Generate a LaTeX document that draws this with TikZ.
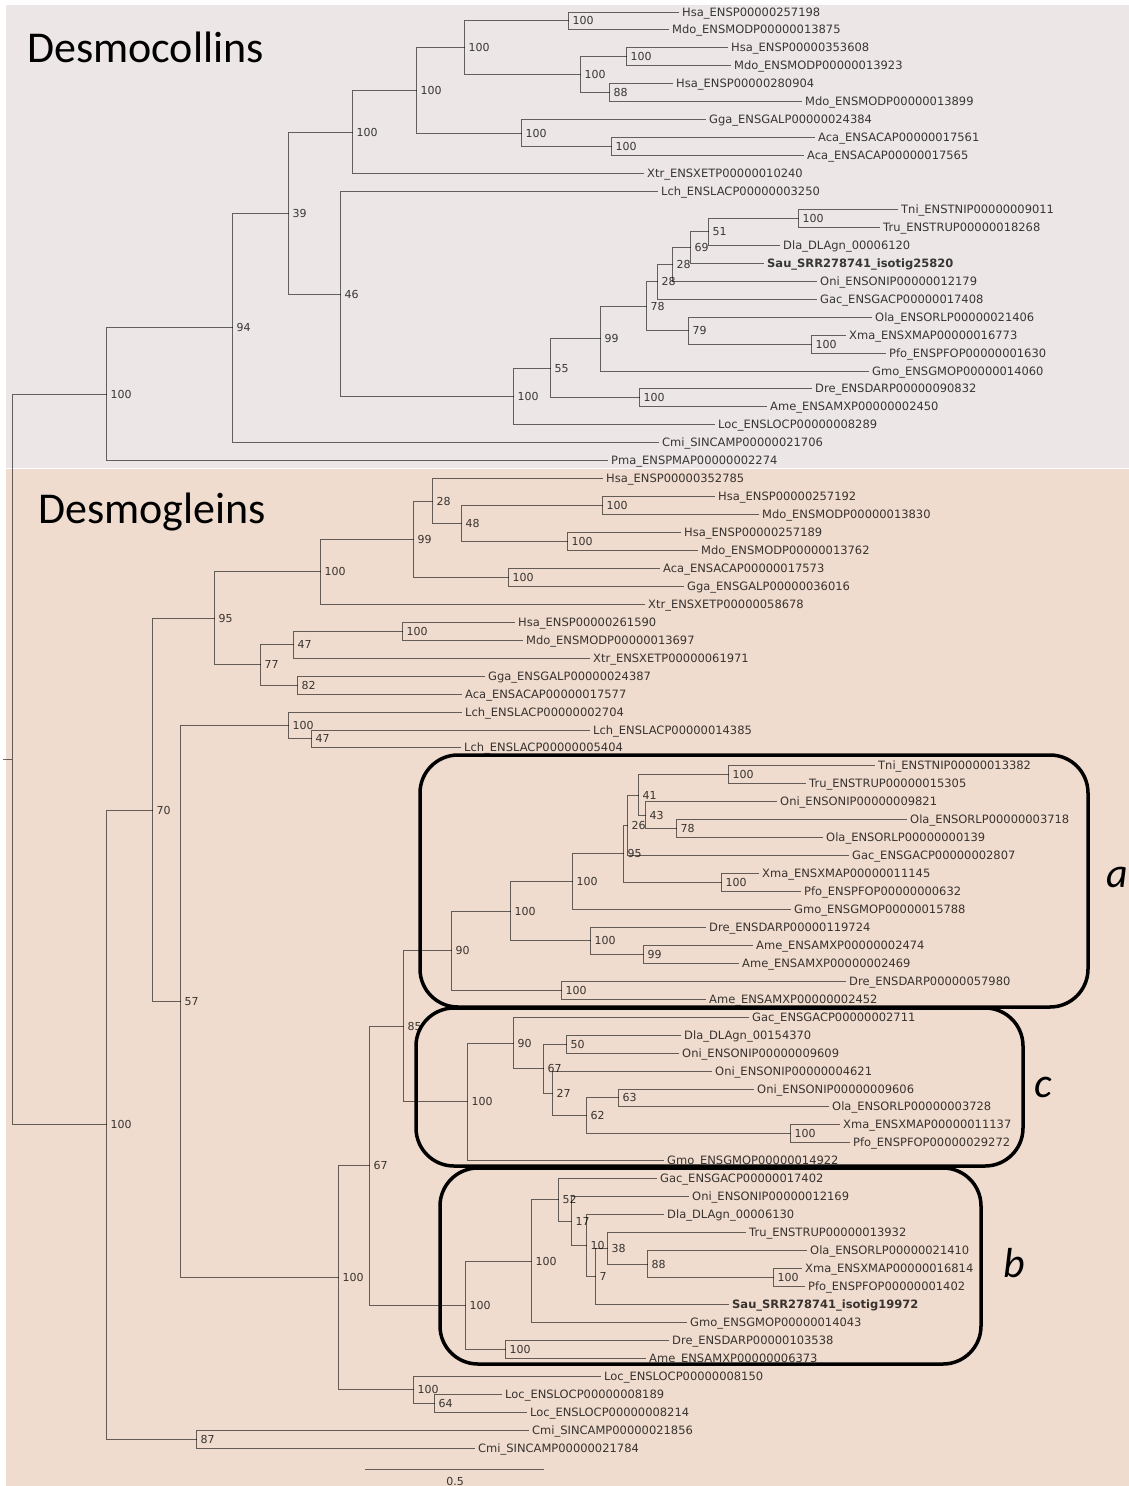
\documentclass[tikz,border=0pt]{standalone}
\usepackage{fontspec}
\setmainfont{DejaVu Sans}
\newfontfamily\titlefont{Carlito}
\definecolor{dscbg}{HTML}{ECE6E6}
\definecolor{dsgbg}{HTML}{EFDCCE}
\definecolor{branch}{HTML}{6A6A6A}
\definecolor{labeltext}{HTML}{3C3C3C}
\newcommand\leaffont{\fontsize{11.5}{12}\selectfont}
\newcommand\supfont{\fontsize{11}{12}\selectfont}
\tikzset{
  br/.style={draw=branch, line width=1.2pt},
  leaf/.style={anchor=west, inner xsep=3.5pt, inner ysep=0pt, text height=8.4pt,
    text depth=0pt, font=\leaffont, text=labeltext},
  sup/.style={anchor=west, inner xsep=4pt, inner ysep=0pt, text height=8pt,
    text depth=0pt, font=\supfont, text=labeltext},
  joint/.style={inner sep=0pt, minimum size=0pt},
  cladebox/.style={draw=black, line width=3.5pt, rounded corners=38pt, inner sep=0pt},
  cladelabel/.style={anchor=base west, inner sep=0pt, font=\titlefont\itshape\fontsize{42}{44}\selectfont},
  heading/.style={anchor=base west, inner sep=0pt, font=\titlefont\fontsize{44}{48}\selectfont}
}
% place a tree node on the pixel grid so every branch is equally crisp
\newcommand\treenode[5]{%
  \pgfmathsetmacro\gx{#3+0.5}\pgfmathsetmacro\gy{floor(#4)+0.5}%
  \node[#1] (#2) at (\gx,\gy) {#5};}
\begin{document}
\begin{tikzpicture}[x=1pt, y=-1pt]
\useasboundingbox (0,0) rectangle (1129,1486);
% panel backgrounds
\fill[white] (0,0) rectangle (1129,1486);
\fill[dscbg] (6,5) rectangle (1129,467.5);
\fill[dsgbg] (6,468.5) rectangle (1129,1486);

\node[heading] (dsctitle) at (27,62) {Desmocollins};
\node[heading] (dsgtitle) at (38,523) {Desmogleins};

\begin{scope}[blend mode=multiply]
% ---------- root ----------
\node[joint] (root) at (12.5,759.5) {};
\node[joint] (stub) at (3,759.5) {};

% ---------- desmocollin leaves ----------
\foreach \n/\x/\y/\t in {
 ua/678/12.0/Hsa\_ENSP00000257198,
 ub/668/29.95/Mdo\_ENSMODP00000013875,
 uc/727/47.9/Hsa\_ENSP00000353608,
 ud/730/65.85/Mdo\_ENSMODP00000013923,
 ue/672/83.8/Hsa\_ENSP00000280904,
 uf/801/101.75/Mdo\_ENSMODP00000013899,
 ug/705/119.7/Gga\_ENSGALP00000024384,
 uh/814/137.65/Aca\_ENSACAP00000017561,
 ui/803/155.6/Aca\_ENSACAP00000017565,
 uj/643/173.55/Xtr\_ENSXETP00000010240,
 uk/657/191.5/Lch\_ENSLACP00000003250,
 ul/897/209.45/Tni\_ENSTNIP00000009011,
 um/879/227.4/Tru\_ENSTRUP00000018268,
 un/779/245.35/Dla\_DLAgn\_00006120,
 up/816/281.25/Oni\_ENSONIP00000012179,
 uq/816/299.2/Gac\_ENSGACP00000017408,
 ur/871/317.15/Ola\_ENSORLP00000021406,
 us/845/335.1/Xma\_ENSXMAP00000016773,
 ut/885/353.05/Pfo\_ENSPFOP00000001630,
 uu/868/371.0/Gmo\_ENSGMOP00000014060,
 uv/811/388.95/Dre\_ENSDARP00000090832,
 uw/766/406.9/Ame\_ENSAMXP00000002450,
 ux/714/424.85/Loc\_ENSLOCP00000008289,
 uy/658/442.8/Cmi\_SINCAMP00000021706,
 uz/607/460.75/Pma\_ENSPMAP00000002274}
  {\treenode{leaf}{\n}{\x}{\y}{\t}}
\treenode{leaf, font=\leaffont\bfseries}{uo}{763}{263.3}{Sau\_SRR278741\_isotig25820}

% ---------- desmocollin internal nodes ----------
\foreach \n/\x/\y/\v in {
 u1/106/394.34/100, u2/232/327.92/94, u3/288/213.04/39, u4/352/132.04/100,
 u5/416/90.53/100, u6/464/47.9/100, u7/568/20.98/100, u8/580/74.83/100,
 u9/626/56.88/100, u10/609/92.78/88, u11/521/133.16/100, u12/611/146.63/100,
 u13/340/294.03/46, u14/513/396.56/100, u15/550/368.27/55, u16/600/338.6/99,
 u17/646/306.21/78, u18/657/281.81/28, u19/672/264.42/28, u20/690/247.6/69,
 u21/708/231.89/51, u22/798/218.43/100, u23/688/330.61/79, u24/811/344.08/100,
 u25/639/397.93/100}
  {\treenode{sup}{\n}{\x}{\y}{\v}}

% ---------- desmoglein leaves ----------
\foreach \n/\x/\y/\t in {
 d26/602/478.7/Hsa\_ENSP00000352785,
 d27/714/496.65/Hsa\_ENSP00000257192,
 d28/758/514.6/Mdo\_ENSMODP00000013830,
 d29/680/532.55/Hsa\_ENSP00000257189,
 d30/697/550.5/Mdo\_ENSMODP00000013762,
 d31/659/568.45/Aca\_ENSACAP00000017573,
 d32/683/586.4/Gga\_ENSGALP00000036016,
 d33/644/604.35/Xtr\_ENSXETP00000058678,
 d34/514/622.3/Hsa\_ENSP00000261590,
 d35/522/640.25/Mdo\_ENSMODP00000013697,
 d36/589/658.2/Xtr\_ENSXETP00000061971,
 d37/484/676.15/Gga\_ENSGALP00000024387,
 d38/461/694.1/Aca\_ENSACAP00000017577,
 d39/461/712.05/Lch\_ENSLACP00000002704,
 d40/589/730.0/Lch\_ENSLACP00000014385,
 d41/460/747.95/Lch\_ENSLACP00000005404,
 d42/874/765.9/Tni\_ENSTNIP00000013382,
 d43/805/783.85/Tru\_ENSTRUP00000015305,
 d44/776/801.8/Oni\_ENSONIP00000009821,
 d45/906/819.75/Ola\_ENSORLP00000003718,
 d46/822/837.7/Ola\_ENSORLP00000000139,
 d47/848/855.65/Gac\_ENSGACP00000002807,
 d48/758/873.6/Xma\_ENSXMAP00000011145,
 d49/800/891.55/Pfo\_ENSPFOP00000000632,
 d50/790/909.5/Gmo\_ENSGMOP00000015788,
 d51/705/927.45/Dre\_ENSDARP00000119724,
 d52/752/945.4/Ame\_ENSAMXP00000002474,
 d53/738/963.35/Ame\_ENSAMXP00000002469,
 d54/845/981.3/Dre\_ENSDARP00000057980,
 d55/705/999.25/Ame\_ENSAMXP00000002452,
 d56/748/1017.2/Gac\_ENSGACP00000002711,
 d57/680/1035.15/Dla\_DLAgn\_00154370,
 d58/678/1053.1/Oni\_ENSONIP00000009609,
 d59/711/1071.05/Oni\_ENSONIP00000004621,
 d60/753/1089.0/Oni\_ENSONIP00000009606,
 d61/828/1106.95/Ola\_ENSORLP00000003728,
 d62/839/1124.9/Xma\_ENSXMAP00000011137,
 d63/849/1142.85/Pfo\_ENSPFOP00000029272,
 d64/663/1160.8/Gmo\_ENSGMOP00000014922,
 d65/656/1178.75/Gac\_ENSGACP00000017402,
 d66/688/1196.7/Oni\_ENSONIP00000012169,
 d67/663/1214.65/Dla\_DLAgn\_00006130,
 d68/745/1232.6/Tru\_ENSTRUP00000013932,
 d69/806/1250.55/Ola\_ENSORLP00000021410,
 d70/801/1268.5/Xma\_ENSXMAP00000016814,
 d71/804/1286.45/Pfo\_ENSPFOP00000001402,
 d73/686/1322.35/Gmo\_ENSGMOP00000014043,
 d74/668/1340.3/Dre\_ENSDARP00000103538,
 d75/645/1358.25/Ame\_ENSAMXP00000006373,
 d76/600/1376.2/Loc\_ENSLOCP00000008150,
 d77/501/1394.15/Loc\_ENSLOCP00000008189,
 d78/526/1412.1/Loc\_ENSLOCP00000008214,
 d79/528/1430.05/Cmi\_SINCAMP00000021856,
 d80/474/1448.0/Cmi\_SINCAMP00000021784}
  {\treenode{leaf}{\n}{\x}{\y}{\t}}
\treenode{leaf, font=\leaffont\bfseries}{d72}{728}{1304.4}{Sau\_SRR278741\_isotig19972}

% ---------- desmoglein internal nodes ----------
\foreach \n/\x/\y/\v in {
 l1/106/1124.51/100, l2/152/810.0/70, l3/214/618.38/95, l4/320/571.82/100,
 l5/413/539.29/99, l6/432/501.14/28, l7/461/523.58/48, l8a/602/505.63/100,
 l8b/567/541.53/100, l9/508/577.43/100, l11/260/664.93/77, l12/293/644.74/47,
 l13/402/631.28/100, l14/297/685.13/82, l20/180/1001.62/57, l21/288/725.51/100,
 l22/311/738.98/47, l30/338/1277.72/100, l31/369/1165.78/67, l32/403/1026.35/85,
 a1/451/950.8/90, a2/510/911.32/100, a3/572/881.73/100, a4/623/853.97/95,
 a5/627/825.36/26, a6/638/795.07/41, a7/728/774.88/100, a8/645/815.26/43,
 a9/676/828.73/78, a11/721/882.58/100, a12/590/940.91/100, a13/643/954.38/99,
 a15/561/990.28/100,
 c1/467/1101.9/100, c2/513/1043.0/90, c3/543/1068.81/67, c4/566/1044.13/50,
 c5/552/1093.49/27, c6/586/1115.93/62, c7/618/1097.98/63, c8/790/1133.88/100,
 l50/465/1305.21/100, b1/531/1261.14/100, b2/558/1199.93/52, b3/571/1221.1/17,
 b4/586/1245.5/10, b5/595/1276.36/7, b6/607/1248.31/38, b7/647/1264.01/88,
 b8/773/1277.48/100, b12/505/1349.28/100,
 l60/413/1389.66/100, l61/434/1403.13/64, l40/196/1439.03/87}
  {\treenode{sup}{\n}{\x}{\y}{\v}}

% ---------- branches ----------
\draw[br] (stub.west) -- (root.west);
\foreach \p/\c in {
 root/u1, u1/u2, u1/uz, u2/u3, u2/uy, u3/u4, u3/u13, u4/u5, u4/uj, u5/u6, u5/u11,
 u6/u7, u6/u8, u7/ua, u7/ub, u8/u9, u8/u10, u9/uc, u9/ud, u10/ue, u10/uf,
 u11/ug, u11/u12, u12/uh, u12/ui, u13/uk, u13/u14, u14/u15, u14/ux, u15/u16,
 u15/u25, u16/u17, u16/uu, u17/u18, u17/u23, u18/u19, u18/uq, u19/u20, u19/up,
 u20/u21, u20/uo, u21/u22, u21/un, u22/ul, u22/um, u23/ur, u23/u24, u24/us,
 u24/ut, u25/uv, u25/uw}
  \draw[br] (\p.west) |- (\c.west);
\foreach \p/\c in {
 root/l1, l1/l2, l1/l40, l2/l3, l2/l20, l3/l4, l3/l11, l4/l5, l4/d33, l5/l6,
 l5/l9, l6/d26, l6/l7, l7/l8a, l7/l8b, l8a/d27, l8a/d28, l8b/d29, l8b/d30,
 l9/d31, l9/d32, l11/l12, l11/l14, l12/l13, l12/d36, l13/d34, l13/d35,
 l14/d37, l14/d38, l20/l21, l20/l30, l21/d39, l21/l22, l22/d40, l22/d41,
 l30/l31, l30/l60, l31/l32, l31/l50, l32/a1, l32/c1, a1/a2, a1/a15, a2/a3,
 a2/a12, a3/a4, a3/d50, a4/a5, a4/a11, a5/a6, a5/d47, a6/a7, a6/a8, a7/d42,
 a7/d43, a8/d44, a8/a9, a9/d45, a9/d46, a11/d48, a11/d49, a12/d51, a12/a13,
 a13/d52, a13/d53, a15/d54, a15/d55, c1/c2, c1/d64, c2/d56, c2/c3, c3/c4,
 c3/c5, c4/d57, c4/d58, c5/d59, c5/c6, c6/c7, c6/c8, c7/d60, c7/d61, c8/d62,
 c8/d63, l50/b1, l50/b12, b1/b2, b1/d73, b2/d65, b2/b3, b3/d66, b3/b4,
 b4/d67, b4/b5, b5/b6, b5/d72, b6/d68, b6/b7, b7/d69, b7/b8, b8/d70, b8/d71,
 b12/d74, b12/d75, l60/d76, l60/l61, l61/d77, l61/d78, l40/d79, l40/d80}
  \draw[br] (\p.west) |- (\c.west);

% ---------- scale bar ----------
\node[joint] (sbl) at (365,1469.5) {};
\node[joint] (sbr) at (544,1469.5) {};
\draw[br] (sbl) -- (sbr);
\node[font=\supfont, text=labeltext, inner sep=0pt] (sbt) at (455,1481) {0.5};
\end{scope}

% ---------- clade boxes ----------
\node[cladebox, minimum width=668, minimum height=252] (boxa) at (754,881) {};
\node[cladebox, minimum width=607, minimum height=158] (boxc) at (719.5,1087) {};
\node[cladebox, minimum width=541, minimum height=196] (boxb) at (710.5,1266) {};
\node[cladelabel] (laba) at (1106,887) {a};
\node[cladelabel] (labc) at (1034,1097) {c};
\node[cladelabel] (labb) at (1003,1277) {b};
\end{tikzpicture}
\end{document}
